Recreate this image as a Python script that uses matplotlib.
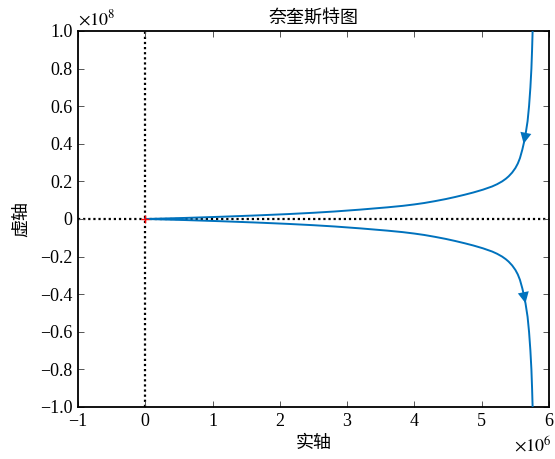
import matplotlib
matplotlib.use("Agg")
import matplotlib.pyplot as plt
import numpy as np

plt.rcParams['font.family'] = ['Liberation Serif', 'Noto Sans CJK SC', 'DejaVu Sans']
plt.rcParams['mathtext.fontset'] = 'stix'

# Upper branch of the Nyquist curve (real in 1e6, imag in 1e8), from top toward origin
real_upper = [5.765, 5.758, 5.750, 5.740, 5.725, 5.705, 5.683, 5.652, 5.625, 5.605,
              5.570, 5.538, 5.502, 5.454, 5.402, 5.360, 5.305, 5.230, 5.156, 5.020,
              4.877, 4.747, 4.607, 4.467, 4.307, 4.147, 4.000, 3.830, 3.600, 3.200,
              2.820, 2.500, 2.115, 1.660, 1.135, 0.580, 0.0]
imag_upper = [1.100, 1.000, 0.900, 0.800, 0.700, 0.600, 0.520, 0.448, 0.400, 0.369,
              0.324, 0.295, 0.271, 0.247, 0.227, 0.214, 0.200, 0.185, 0.173, 0.156,
              0.141, 0.129, 0.117, 0.106, 0.095, 0.085, 0.0775, 0.070, 0.062, 0.050,
              0.040, 0.033, 0.026, 0.019, 0.012, 0.0055, 0.0]
# lower branch is the mirror image (negative frequencies)
real_lower = real_upper[::-1]
imag_lower = [-v for v in imag_upper[::-1]]

xticks = [-1, 0, 1, 2, 3, 4, 5, 6]
xticklabels = ['\u22121', '0', '1', '2', '3', '4', '5', '6']
yticks = [-1.0, -0.8, -0.6, -0.4, -0.2, 0, 0.2, 0.4, 0.6, 0.8, 1.0]
yticklabels = ['\u22121.0', '\u22120.8', '\u22120.6', '\u22120.4', '\u22120.2', '0',
               '0.2', '0.4', '0.6', '0.8', '1.0']

line_color = '#0072BD'

fig = plt.figure(figsize=(5.55, 4.59), dpi=100)
ax = fig.add_axes([0.1405, 0.1133, 0.8485, 0.8192])

ax.axhline(0, color='black', linestyle=(0, (1, 1.3)), linewidth=1.6, zorder=1)
ax.axvline(0, color='black', linestyle=(0, (1, 1.3)), linewidth=1.6, zorder=1)

ax.plot(real_upper, imag_upper, color=line_color, linewidth=1.4, zorder=3)
ax.plot(real_lower, imag_lower, color=line_color, linewidth=1.4, zorder=3)

# direction arrows (both pointing downward, following increasing frequency)
astyle = '-|>,head_length=0.5,head_width=0.25'
ax.annotate('', xy=(real_upper[8], imag_upper[8]), xytext=(real_upper[7], imag_upper[7]),
            arrowprops=dict(arrowstyle=astyle, color=line_color, mutation_scale=16,
                            linewidth=0, shrinkA=0, shrinkB=0), zorder=4)
ax.annotate('', xy=(real_upper[7], -imag_upper[7]), xytext=(real_upper[8], -imag_upper[8]),
            arrowprops=dict(arrowstyle=astyle, color=line_color, mutation_scale=16,
                            linewidth=0, shrinkA=0, shrinkB=0), zorder=4)

ax.plot([0], [0], marker='+', color='red', markersize=6, markeredgewidth=1.0, zorder=5)

ax.set_xlim(-1, 6)
ax.set_ylim(-1, 1)
ax.set_xticks(xticks)
ax.set_xticklabels(xticklabels)
ax.set_yticks(yticks)
ax.set_yticklabels(yticklabels)
ax.tick_params(direction='in', length=4, width=0.7, color='#555555', labelsize=13,
               top=True, right=True, pad=4)
for s in ax.spines.values():
    s.set_linewidth(1.3)

ax.set_title('奈奎斯特图', fontsize=13, pad=6)
ax.set_xlabel('实轴', fontsize=13, labelpad=4)
ax.set_ylabel('虚轴', fontsize=13, labelpad=7)

ax.text(0.0, 1.005, r'$\times10^{8}$', transform=ax.transAxes, fontsize=13,
        ha='left', va='bottom')
ax.text(1.005, -0.075, r'$\times10^{6}$', transform=ax.transAxes, fontsize=13,
        ha='right', va='top')

fig.savefig('out.png', dpi=100)
